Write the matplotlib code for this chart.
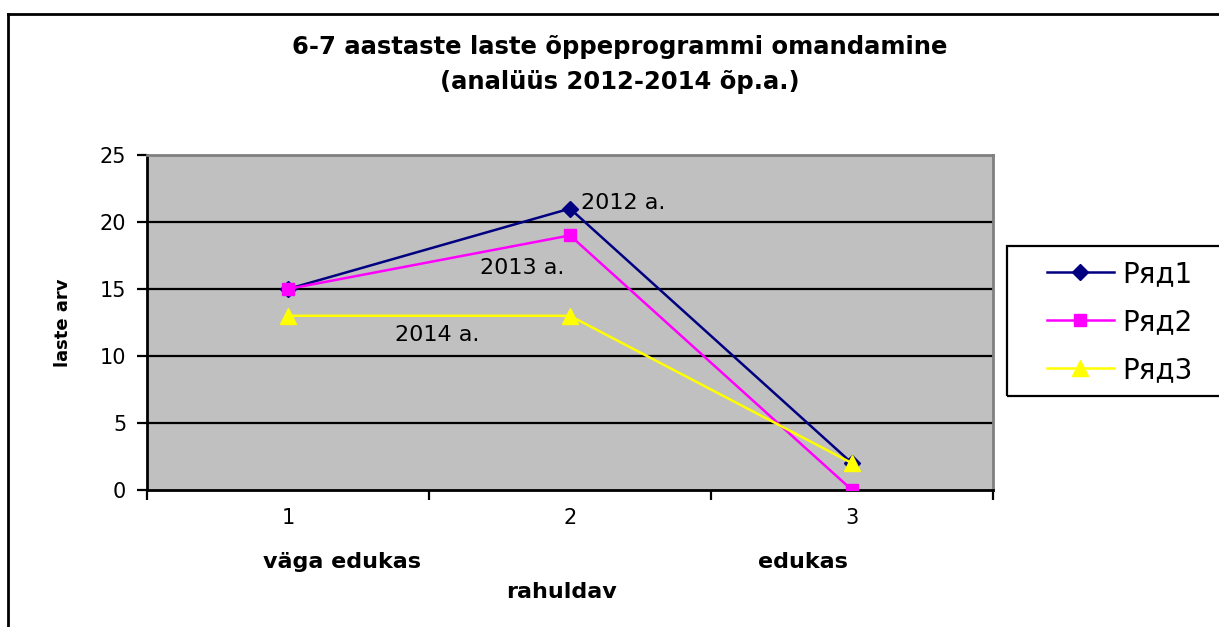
import matplotlib
matplotlib.use("Agg")
import matplotlib.pyplot as plt
from matplotlib.lines import Line2D
from matplotlib.patches import Rectangle

plt.rcParams['font.family'] = ['DejaVu Sans']

# data
categories = [1, 2, 3]
series_names = ['Ряд1', 'Ряд2', 'Ряд3']
rjad1 = [15, 21, 2]
rjad2 = [15, 19, 0]
rjad3 = [13, 13, 2]
year_labels = ['2012 a.', '2013 a.', '2014 a.']
cat_names = ['väga edukas', 'rahuldav', 'edukas']
yticks = [0, 5, 10, 15, 20, 25]

W, H = 1219, 627
fig = plt.figure(figsize=(W / 100, H / 100), dpi=100)
fig.patch.set_facecolor('white')

# plot area
ax = fig.add_axes([147 / W, 1 - 490 / H, (993 - 147) / W, (490 - 155) / H])
ax.set_facecolor('#C0C0C0')
ax.set_xlim(0.5, 3.5)
ax.set_ylim(0, 25)

for y in yticks[1:-1]:
    ax.axhline(y, color='black', lw=1.6, zorder=1)

ax.plot(categories, rjad1, color='#000080', marker='D', ms=8, lw=1.8,
        label=series_names[0], zorder=3)
ax.plot(categories, rjad2, color='#FF00FF', marker='s', ms=9, lw=1.8,
        label=series_names[1], zorder=4)
ax.plot(categories, rjad3, color='#FFFF00', marker='^', ms=11, lw=1.8,
        label=series_names[2], zorder=5)

# year annotations
ax.text(2.04, 21.4, year_labels[0], fontsize=16, ha='left', va='center')
ax.text(1.83, 16.6, year_labels[1], fontsize=16, ha='center', va='center')
ax.text(1.53, 11.6, year_labels[2], fontsize=16, ha='center', va='center')

# axes styling
ax.spines['left'].set_color('black')
ax.spines['left'].set_linewidth(2)
ax.spines['bottom'].set_color('black')
ax.spines['bottom'].set_linewidth(2)
ax.spines['top'].set_color('#808080')
ax.spines['top'].set_linewidth(2)
ax.spines['right'].set_color('#808080')
ax.spines['right'].set_linewidth(2)

ax.set_yticks(yticks)
ax.set_yticklabels([str(v) for v in yticks])
ax.tick_params(axis='y', direction='out', length=7, width=1.6, labelsize=15, pad=8)
ax.set_xticks([0.5, 1.5, 2.5, 3.5])
ax.set_xticklabels([])
ax.tick_params(axis='x', direction='out', length=7, width=1.6)
for c in categories:
    ax.text(c, -0.055, str(c), transform=ax.get_xaxis_transform(),
            fontsize=15, ha='center', va='top')

ax.set_ylabel('laste arv', fontsize=13, fontweight='bold', labelpad=20)

# category names under the axis
fig.text(342 / W, 1 - 562 / H, cat_names[0], fontsize=16, fontweight='bold',
         ha='center', va='center')
fig.text(562 / W, 1 - 592 / H, cat_names[1], fontsize=16, fontweight='bold',
         ha='center', va='center')
fig.text(803 / W, 1 - 562 / H, cat_names[2], fontsize=16, fontweight='bold',
         ha='center', va='center')

# title
fig.text(620 / W, 1 - 47 / H, '6-7 aastaste laste õppeprogrammi omandamine',
         fontsize=17.5, fontweight='bold', ha='center', va='center')
fig.text(620 / W, 1 - 82 / H, '(analüüs 2012-2014 õp.a.)',
         fontsize=17.5, fontweight='bold', ha='center', va='center')

# legend with its own frame
fig.patches.append(Rectangle((1007 / W, 1 - 396 / H), (1225 - 1007) / W, 150 / H,
                             transform=fig.transFigure, fill=False,
                             edgecolor='black', lw=1.6))
fig.legend(loc='center left', bbox_to_anchor=(1033 / W, 1 - 322 / H),
           bbox_transform=fig.transFigure, frameon=False, fontsize=20,
           borderpad=0, handlelength=2.4, handletextpad=0.3, labelspacing=0.72)

# outer chart border
fig.lines.append(Line2D([8 / W, 1.0], [1 - 14 / H, 1 - 14 / H],
                        transform=fig.transFigure, color='black', lw=2))
fig.lines.append(Line2D([8 / W, 8 / W], [0, 1 - 14 / H],
                        transform=fig.transFigure, color='black', lw=2))

fig.savefig('out.png', dpi=100)
